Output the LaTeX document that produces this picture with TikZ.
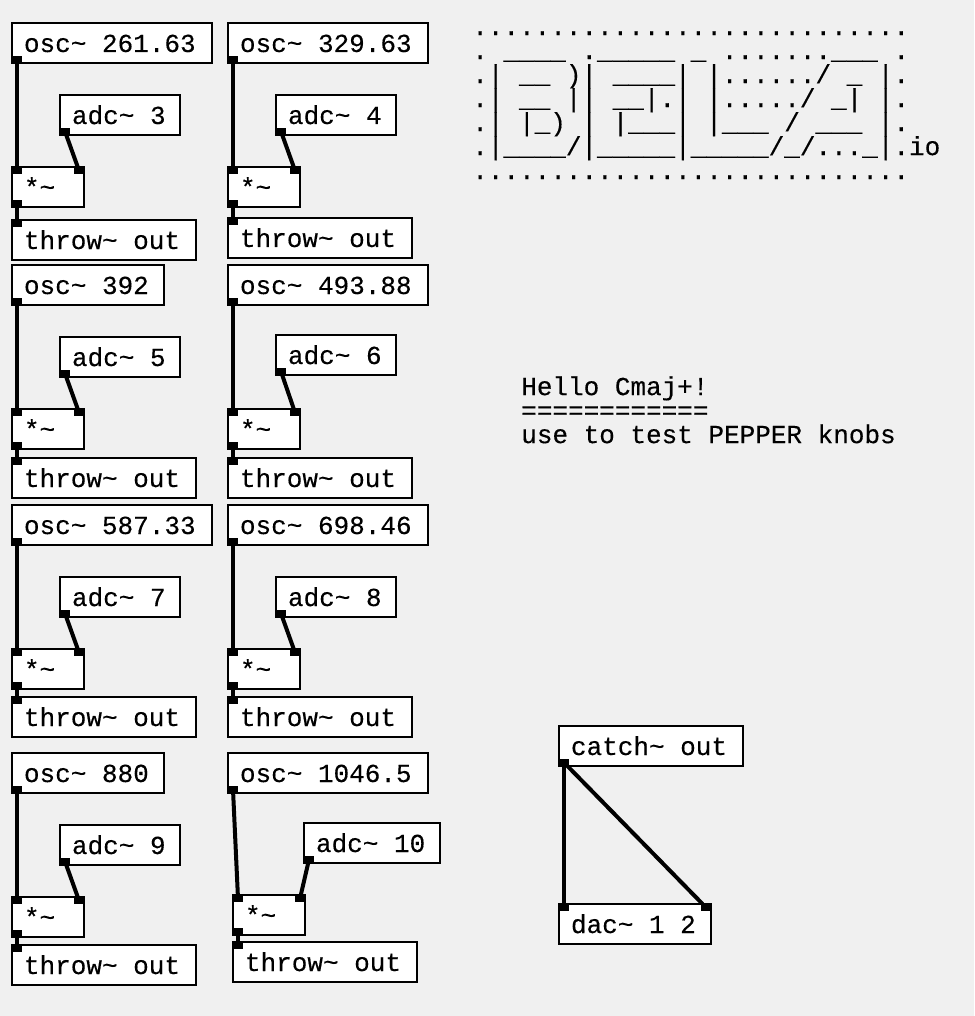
\documentclass[tikz,border=0pt]{standalone}
\usepackage{fontspec}
\setmonofont[FakeBold=0.3]{Liberation Mono}
\definecolor{pdback}{HTML}{F0F0F0}
\newcommand{\pdfont}{\ttfamily\fontsize{19.5}{18}\selectfont\lineskiplimit=-50pt\relax}
\newcommand{\tld}{\symbol{126}}
\tikzset{
    pdbox/.style={draw, fill=white, line width=1.5pt, anchor=north west, outer sep=0pt, inner xsep=9pt, inner ysep=0pt,
        text width=#1*0.75pt-18pt, align=flush left, text height=21.75pt, text depth=8.25pt, font=\pdfont},
    pdtext/.style={anchor=north west, inner sep=0pt, align=left, font=\pdfont},
    pdport/.style={fill=black, inner sep=0pt, outer sep=0pt, minimum width=7.5pt, minimum height=5.25pt},
    outlet/.style={append after command={node[pdport, anchor=south west] (#1o) at (#1.south west) {}}},
    inlet/.style={append after command={node[pdport, anchor=north west] (#1i) at (#1.north west) {}}},
    inletb/.style={append after command={node[pdport, anchor=north east] (#1j) at (#1.north east) {}}},
    wire/.style={line width=3pt}
}
\begin{document}
\begin{tikzpicture}[x=0.75pt, y=-0.75pt]
    \fill[pdback] (0,0) rectangle (974,1016);
    \useasboundingbox (0,0) rectangle (974,1016);

    \node[pdbox=200, outlet=oscA] (oscA) at (12,23) {osc\tld{} 261.63};
    \node[pdbox=120, outlet=adcA] (adcA) at (60,95) {adc\tld{} 3};
    \node[pdbox=72, inlet=mulA, inletb=mulA, outlet=mulA] (mulA) at (12,167) {*\tld};
    \node[pdbox=184, inlet=throwA] (throwA) at (12,220) {throw\tld{} out};
    \draw[wire] (oscAo) -- (mulAi);
    \draw[wire] (adcAo) -- (mulAj);
    \draw[wire] (mulAo) -- (throwAi);

    \node[pdbox=200, outlet=oscB] (oscB) at (228,23) {osc\tld{} 329.63};
    \node[pdbox=120, outlet=adcB] (adcB) at (276,95) {adc\tld{} 4};
    \node[pdbox=72, inlet=mulB, inletb=mulB, outlet=mulB] (mulB) at (228,167) {*\tld};
    \node[pdbox=184, inlet=throwB] (throwB) at (228,218) {throw\tld{} out};
    \draw[wire] (oscBo) -- (mulBi);
    \draw[wire] (adcBo) -- (mulBj);
    \draw[wire] (mulBo) -- (throwBi);

    \node[pdbox=152, outlet=oscC] (oscC) at (12,265) {osc\tld{} 392};
    \node[pdbox=120, outlet=adcC] (adcC) at (60,337) {adc\tld{} 5};
    \node[pdbox=72, inlet=mulC, inletb=mulC, outlet=mulC] (mulC) at (12,409) {*\tld};
    \node[pdbox=184, inlet=throwC] (throwC) at (12,458) {throw\tld{} out};
    \draw[wire] (oscCo) -- (mulCi);
    \draw[wire] (adcCo) -- (mulCj);
    \draw[wire] (mulCo) -- (throwCi);

    \node[pdbox=200, outlet=oscD] (oscD) at (228,265) {osc\tld{} 493.88};
    \node[pdbox=120, outlet=adcD] (adcD) at (276,335) {adc\tld{} 6};
    \node[pdbox=72, inlet=mulD, inletb=mulD, outlet=mulD] (mulD) at (228,409) {*\tld};
    \node[pdbox=184, inlet=throwD] (throwD) at (228,458) {throw\tld{} out};
    \draw[wire] (oscDo) -- (mulDi);
    \draw[wire] (adcDo) -- (mulDj);
    \draw[wire] (mulDo) -- (throwDi);

    \node[pdbox=200, outlet=oscE] (oscE) at (12,505) {osc\tld{} 587.33};
    \node[pdbox=120, outlet=adcE] (adcE) at (60,577) {adc\tld{} 7};
    \node[pdbox=72, inlet=mulE, inletb=mulE, outlet=mulE] (mulE) at (12,649) {*\tld};
    \node[pdbox=184, inlet=throwE] (throwE) at (12,697) {throw\tld{} out};
    \draw[wire] (oscEo) -- (mulEi);
    \draw[wire] (adcEo) -- (mulEj);
    \draw[wire] (mulEo) -- (throwEi);

    \node[pdbox=200, outlet=oscF] (oscF) at (228,505) {osc\tld{} 698.46};
    \node[pdbox=120, outlet=adcF] (adcF) at (276,577) {adc\tld{} 8};
    \node[pdbox=72, inlet=mulF, inletb=mulF, outlet=mulF] (mulF) at (228,649) {*\tld};
    \node[pdbox=184, inlet=throwF] (throwF) at (228,697) {throw\tld{} out};
    \draw[wire] (oscFo) -- (mulFi);
    \draw[wire] (adcFo) -- (mulFj);
    \draw[wire] (mulFo) -- (throwFi);

    \node[pdbox=152, outlet=oscG] (oscG) at (12,753) {osc\tld{} 880};
    \node[pdbox=120, outlet=adcG] (adcG) at (60,825) {adc\tld{} 9};
    \node[pdbox=72, inlet=mulG, inletb=mulG, outlet=mulG] (mulG) at (12,897) {*\tld};
    \node[pdbox=184, inlet=throwG] (throwG) at (12,945) {throw\tld{} out};
    \draw[wire] (oscGo) -- (mulGi);
    \draw[wire] (adcGo) -- (mulGj);
    \draw[wire] (mulGo) -- (throwGi);

    \node[pdbox=200, outlet=oscH] (oscH) at (228,753) {osc\tld{} 1046.5};
    \node[pdbox=136, outlet=adcH] (adcH) at (304,823) {adc\tld{} 10};
    \node[pdbox=72, inlet=mulH, inletb=mulH, outlet=mulH] (mulH) at (233,895) {*\tld};
    \node[pdbox=184, inlet=throwH] (throwH) at (233,942) {throw\tld{} out};
    \draw[wire] (oscHo) -- (mulHi);
    \draw[wire] (adcHo) -- (mulHj);
    \draw[wire] (mulHo) -- (throwHi);

    \node[pdbox=184, outlet=catch] (catch) at (559,726) {catch\tld{} out};
    \node[pdbox=152, inlet=dac, inletb=dac] (dac) at (559,904) {dac\tld{} 1 2};
    \draw[wire] (catcho) -- (daci);
    \draw[wire] (catcho) -- (dacj);

    \node[pdtext] (logo) at (472,31) {
        ............................\\
        .~\_\_\_\_~.\_\_\_\_\_~\_~.......\_\_\_~.\\
        .|~\_\_~)|~\_\_\_\_|~|....../~\_~|.\\
        .|~\_\_~||~\_\_|.|~|...../~\_|~|.\\
        .|~|\_)~|~|\_\_\_|~|\_\_\_~/~\_\_\_~|.\\
        .|\_\_\_\_/|\_\_\_\_\_|\_\_\_\_\_/\_/...\_|.io\\
        ............................};
    \node[pdtext] (hello) at (521,376) {
        Hello Cmaj+!\\
        ============\\
        use to test PEPPER knobs};
\end{tikzpicture}
\end{document}
